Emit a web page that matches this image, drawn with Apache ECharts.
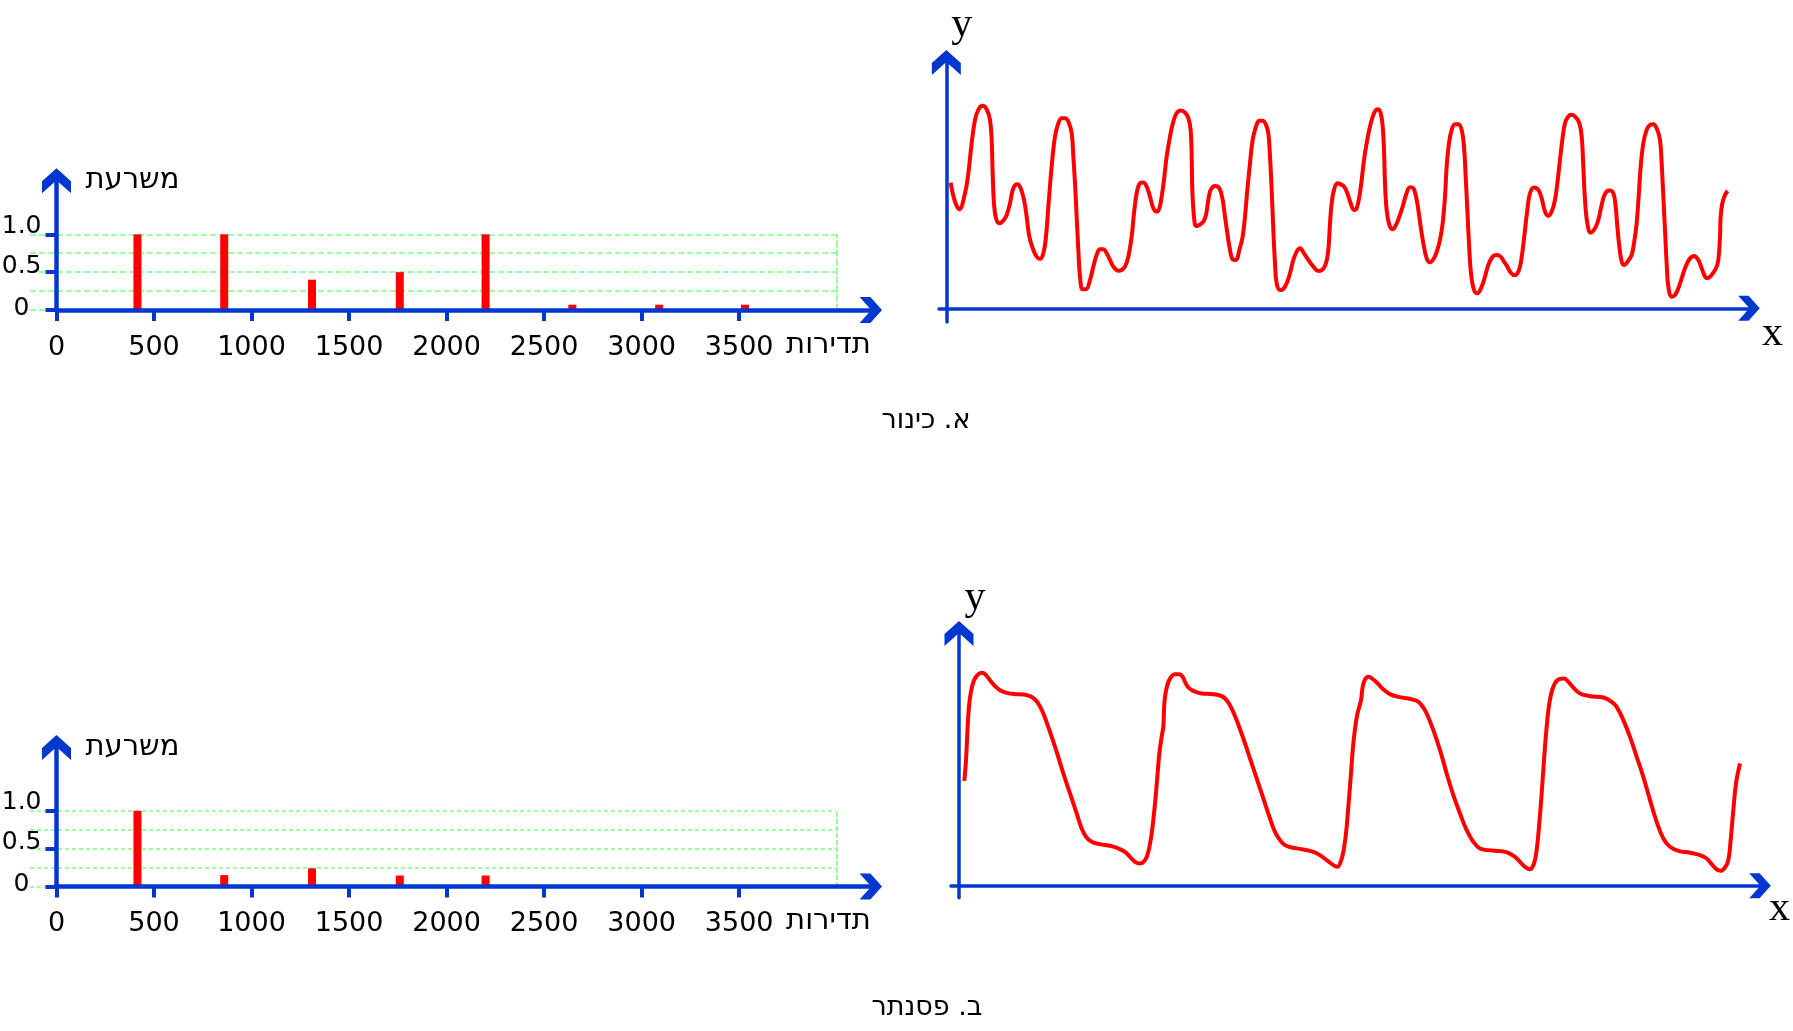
<!DOCTYPE html>
<html><head><meta charset="utf-8">
<script src="https://cdn.jsdelivr.net/npm/echarts@6/dist/echarts.min.js"></script>
<style>html,body{margin:0;padding:0;background:#fff}#c{width:1793px;height:1031px}</style>
</head><body><div id="c"></div>
<script>
// ---------- data ----------
const freqTicks = [0, 500, 1000, 1500, 2000, 2500, 3000, 3500];
const ampTicks = [0, 0.5, 1.0];
const harpFreq = [415, 860, 1310, 1760, 2200, 2645, 3090, 3530];
const harpAmp  = [1.0, 1.0, 0.4, 0.5, 1.0, 0.07, 0.07, 0.07];
const pianoFreq = [415, 860, 1310, 1760, 2200];
const pianoAmp  = [1.0, 0.15, 0.24, 0.145, 0.145];
const captions = ['א. כינור', 'ב. פסנתר'];
const ampName = 'משרעת';
const freqName = 'תדירות';
// waveforms: [time, displacement] in arbitrary units
const harpWave = [[13,377],[26,320],[39,297],[56,345],[66,405],[76,495],[86,565],[96,595],[108,607],[121,597],[131,565],[136,505],[139,405],[143,315],[149,270],[159,255],[171,263],[181,280],[191,315],[201,360],[213,372],[223,360],[233,325],[241,275],[249,215],[261,175],[271,155],[281,148],[291,165],[299,215],[306,305],[316,425],[326,515],[336,555],[346,570],[356,570],[366,560],[376,525],[381,455],[386,375],[391,275],[396,175],[401,95],[409,57],[419,57],[431,85],[441,125],[451,160],[461,177],[471,177],[481,165],[491,145],[501,125],[516,113],[526,115],[536,125],[546,155],[556,215],[563,285],[571,345],[581,375],[591,377],[601,365],[611,335],[621,300],[631,290],[639,300],[646,335],[653,385],[661,455],[671,515],[681,560],[691,585],[703,593],[716,587],[726,570],[733,535],[736,455],[738,355],[743,275],[749,247],[759,250],[771,260],[779,280],[786,325],[793,355],[806,367],[819,360],[829,325],[836,275],[843,225],[851,175],[859,147],[869,145],[879,175],[889,215],[896,275],[903,355],[911,435],[919,505],[929,545],[939,562],[949,562],[959,550],[966,525],[971,455],[976,355],[981,235],[986,135],[991,75],[1001,55],[1011,58],[1021,75],[1031,105],[1041,145],[1051,170],[1061,180],[1073,165],[1086,145],[1101,125],[1116,112],[1129,117],[1139,135],[1146,175],[1151,255],[1156,315],[1163,355],[1173,375],[1181,373],[1193,365],[1203,345],[1213,315],[1223,295],[1231,300],[1239,335],[1246,385],[1253,445],[1261,495],[1271,545],[1283,585],[1294,597],[1303,585],[1309,545],[1313,475],[1316,375],[1321,295],[1329,250],[1339,237],[1349,250],[1359,275],[1369,305],[1379,340],[1391,363],[1401,360],[1409,335],[1416,295],[1423,245],[1431,195],[1441,150],[1451,138],[1463,150],[1473,175],[1481,205],[1489,255],[1496,335],[1501,425],[1508,495],[1516,535],[1526,552],[1536,552],[1546,535],[1553,485],[1558,395],[1563,295],[1568,195],[1574,105],[1583,55],[1593,45],[1606,65],[1616,95],[1626,130],[1639,155],[1651,160],[1663,155],[1673,140],[1683,125],[1693,107],[1706,99],[1716,110],[1723,135],[1729,175],[1736,235],[1743,295],[1751,345],[1763,362],[1776,355],[1786,330],[1796,290],[1806,277],[1816,290],[1826,325],[1833,375],[1841,445],[1848,505],[1856,555],[1866,575],[1876,580],[1888,573],[1899,555],[1906,515],[1911,425],[1916,325],[1923,255],[1933,227],[1946,240],[1956,265],[1966,310],[1976,343],[1989,353],[2001,345],[2008,305],[2013,245],[2019,185],[2026,140],[2033,130],[2046,143],[2056,160],[2063,195],[2071,255],[2077,335],[2083,425],[2091,495],[2101,535],[2111,550],[2121,552],[2131,540],[2141,505],[2146,435],[2151,335],[2156,235],[2161,135],[2166,65],[2176,35],[2186,40],[2196,60],[2206,90],[2216,120],[2229,147],[2243,157],[2256,145],[2266,120],[2276,95],[2284,90],[2296,100],[2309,120],[2316,145],[2321,215],[2323,275],[2328,315],[2336,340],[2344,352]];
const pianoWave = [[16,315],[21,377],[25,457],[29,527],[35,577],[45,617],[58,635],[70,639],[81,632],[93,617],[108,599],[123,587],[143,579],[168,575],[193,574],[213,569],[228,559],[241,542],[253,517],[273,462],[293,402],[313,337],[333,277],[353,217],[368,172],[381,147],[398,132],[423,125],[453,120],[478,112],[498,102],[513,87],[528,72],[543,67],[558,77],[568,102],[578,157],[588,247],[595,327],[601,397],[608,447],[613,477],[615,527],[618,567],[625,602],[635,625],[648,635],[661,635],[671,627],[678,612],[688,595],[703,585],[728,577],[763,575],[788,569],[803,557],[818,532],[833,497],[853,442],[873,382],[893,322],[913,262],[933,202],[948,162],[963,137],[978,122],[998,115],[1033,109],[1063,102],[1083,92],[1103,77],[1123,62],[1135,57],[1145,72],[1153,102],[1161,157],[1168,237],[1176,337],[1183,427],[1194,510],[1206,557],[1211,597],[1218,619],[1228,627],[1243,619],[1258,605],[1273,589],[1293,575],[1318,567],[1348,562],[1373,555],[1388,542],[1403,517],[1423,467],[1443,407],[1463,337],[1483,272],[1503,217],[1523,167],[1543,132],[1563,112],[1588,107],[1623,104],[1648,99],[1668,87],[1683,72],[1698,57],[1713,50],[1725,67],[1733,107],[1740,177],[1748,277],[1755,377],[1763,477],[1771,547],[1781,592],[1795,617],[1815,622],[1828,612],[1843,595],[1863,577],[1893,569],[1933,565],[1958,552],[1973,537],[1993,497],[2013,447],[2033,387],[2053,327],[2073,257],[2093,192],[2113,142],[2133,117],[2158,105],[2193,99],[2223,92],[2243,82],[2258,65],[2273,49],[2285,45],[2298,55],[2308,77],[2315,137],[2323,227],[2331,307],[2343,367]];

// ---------- style ----------
const BLUE = '#0038cf', RED = '#ff0000', GREEN = '#7dff7d';
const FONT = 'DejaVu Sans', SERIF = 'Liberation Serif';
const ARROW = 'path://M14.5,0 L29,13 L29,25 L14.5,12 L0,25 L0,13 Z';

function specX(g) {
  return {
    type: 'value', gridIndex: g, min: 0, max: 4175,
    axisLine: {show: true, onZero: true, symbol: ['none', ARROW], symbolSize: [26, 23], lineStyle: {color: BLUE, width: 4.5}},
    axisTick: {show: true, customValues: freqTicks, length: 11, lineStyle: {color: BLUE, width: 4}},
    axisLabel: {show: true, customValues: freqTicks, margin: 24, color: '#000', fontFamily: FONT, fontSize: 27, formatter: v => String(v)},
    splitLine: {show: false},
    name: freqName, nameLocation: 'end', nameGap: 0, nameMoveOverlap: false,
    nameTextStyle: {fontFamily: FONT, fontSize: 29, color: '#000', align: 'right', verticalAlign: 'top', lineHeight: 70},
    z: 3
  };
}
function specY(g, max, padTop) {
  return {
    type: 'value', gridIndex: g, min: 0, max: max,
    axisLine: {show: true, onZero: true, symbol: ['none', ARROW], symbolSize: [29, 25], lineStyle: {color: BLUE, width: 4.5}},
    axisTick: {show: true, customValues: ampTicks, length: 11, lineStyle: {color: BLUE, width: 4}},
    axisLabel: {
      show: true, customValues: ampTicks, margin: 15, color: '#000', fontFamily: FONT, fontSize: 25, verticalAlign: 'middle',
      formatter: v => v === 0 ? '{z|0}' : (v === 1 ? '{n|1.0}' : '{h|' + v.toFixed(1) + '}'),
      rich: {
        z: {padding: [0, 12, 4, 0], fontFamily: FONT, fontSize: 25, color: '#000'},
        h: {padding: [0, 0, 12, 0], fontFamily: FONT, fontSize: 25, color: '#000'},
        n: {padding: [0, 0, 16, 0], fontFamily: FONT, fontSize: 25, color: '#000'}
      }
    },
    splitLine: {show: false},
    name: ampName, nameLocation: 'end', nameGap: 0, nameMoveOverlap: false,
    nameTextStyle: {fontFamily: FONT, fontSize: 29, color: '#000', align: 'left', verticalAlign: 'middle', padding: [padTop, 0, 0, 29]},
    z: 3
  };
}
function greenX(g) { return {type: 'value', gridIndex: g, min: 0, max: 1, show: false}; }
function greenYLeft(g, dash) {
  return {type: 'value', gridIndex: g, min: 0, max: 1, interval: 0.25,
    axisLine: {show: false}, axisTick: {show: false}, axisLabel: {show: false},
    splitLine: {show: true, lineStyle: {color: GREEN, width: 1.6, type: dash}}, z: 0};
}
function greenYRight(g, dash) {
  return {type: 'value', gridIndex: g, min: 0, max: 1, position: 'right',
    axisLine: {show: true, onZero: false, lineStyle: {color: GREEN, width: 1.6, type: dash}},
    axisTick: {show: false}, axisLabel: {show: false}, splitLine: {show: false}, z: 0};
}
function waveX(g, min, max, padTop, gap) {
  return {type: 'value', gridIndex: g, min: min, max: max,
    axisLine: {show: true, onZero: true, symbol: ['none', ARROW], symbolSize: [25, 22], lineStyle: {color: BLUE, width: 3.5}},
    axisTick: {show: false}, axisLabel: {show: false}, splitLine: {show: false},
    name: 'x', nameLocation: 'end', nameGap: gap, nameMoveOverlap: false,
    nameTextStyle: {fontFamily: SERIF, fontSize: 42, lineHeight: 42, color: '#000', align: 'left', verticalAlign: 'top', padding: [padTop, 0, 0, 0]}};
}
function waveY(g, min, max, padLeft, gap) {
  return {type: 'value', gridIndex: g, min: min, max: max,
    axisLine: {show: true, onZero: true, symbol: ['none', ARROW], symbolSize: [29, 25], lineStyle: {color: BLUE, width: 3.5}},
    axisTick: {show: false}, axisLabel: {show: false}, splitLine: {show: false},
    name: 'y', nameLocation: 'end', nameGap: gap, nameMoveOverlap: false,
    nameTextStyle: {fontFamily: SERIF, fontSize: 42, lineHeight: 42, color: '#000', align: 'left', verticalAlign: 'bottom', padding: [0, 0, 0, padLeft]}};
}

const zip = (a, b) => a.map((v, i) => [v, b[i]]);

const option = {
  animation: false,
  backgroundColor: '#fff',
  grid: [
    {left: 56.5, top: 180.8, width: 814.3, height: 129.2, outerBoundsMode: 'none'},
    {left: 30, top: 234.3, width: 806.5, height: 75.7, outerBoundsMode: 'none'},
    {left: 939, top: 62.5, width: 810, height: 259.5, outerBoundsMode: 'none'},
    {left: 56.5, top: 747.5, width: 814.3, height: 139, outerBoundsMode: 'none'},
    {left: 30, top: 810.8, width: 806.5, height: 75.7, outerBoundsMode: 'none'},
    {left: 951, top: 633.5, width: 809, height: 264.3, outerBoundsMode: 'none'}
  ],
  xAxis: [
    specX(0),
    greenX(1),
    waveX(2, -22, 2408, 5, 13),
    specX(3),
    greenX(4),
    waveX(5, -24, 2403, 2, 9)
  ],
  yAxis: [
    specY(0, 1.707, 5),
    greenYLeft(1, [6, 3]),
    greenYRight(1, [6, 3]),
    waveY(2, -41, 737, 5, 17),
    specY(3, 1.836, 3),
    greenYLeft(4, [4, 3]),
    greenYRight(4, [4, 3]),
    waveY(5, -36, 757, 5.5, 15)
  ],
  series: [
    {type: 'bar', xAxisIndex: 0, yAxisIndex: 0, data: zip(harpFreq, harpAmp), barWidth: 8, itemStyle: {color: RED}, z: 2},
    {type: 'line', xAxisIndex: 2, yAxisIndex: 3, data: harpWave, showSymbol: false, smooth: 0.4, lineStyle: {color: RED, width: 4}, z: 2},
    {type: 'bar', xAxisIndex: 3, yAxisIndex: 4, data: zip(pianoFreq, pianoAmp), barWidth: 8, itemStyle: {color: RED}, z: 2},
    {type: 'line', xAxisIndex: 5, yAxisIndex: 7, data: pianoWave, showSymbol: false, smooth: 0.4, lineStyle: {color: RED, width: 4}, z: 2}
  ],
  graphic: [
    {type: 'text', x: 926, y: 421, style: {text: captions[0], font: '27px "DejaVu Sans"', fill: '#000', align: 'center', verticalAlign: 'middle'}},
    {type: 'text', x: 927, y: 1008, style: {text: captions[1], font: '27px "DejaVu Sans"', fill: '#000', align: 'center', verticalAlign: 'middle'}}
  ]
};

const chart = echarts.init(document.getElementById('c'), null, {renderer: 'canvas'});
chart.setOption(option);
</script></body></html>
